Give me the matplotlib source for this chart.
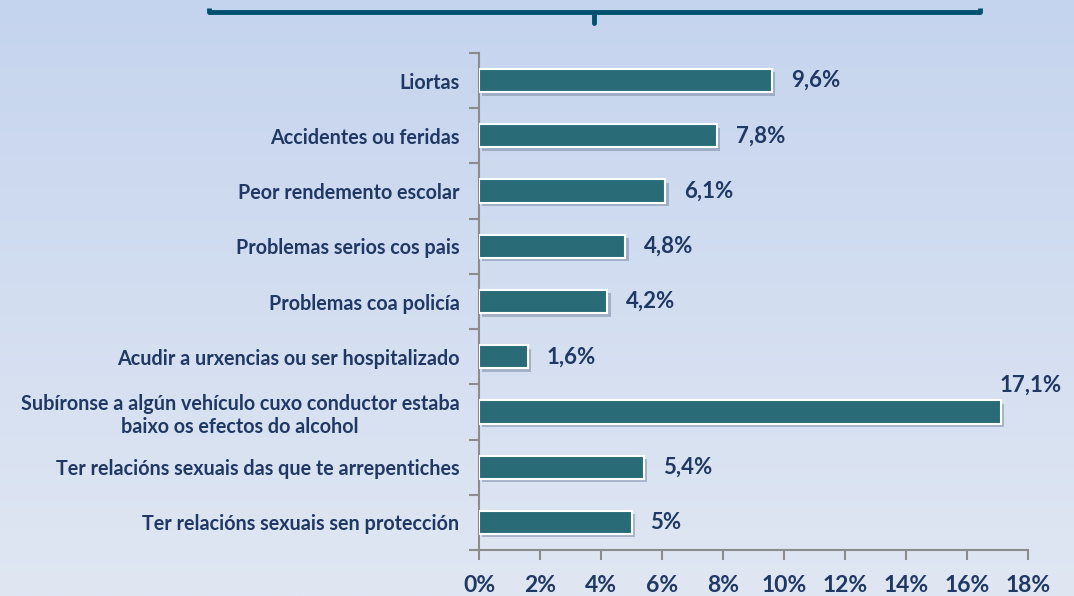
import numpy as np
import matplotlib
matplotlib.use('Agg')
import matplotlib.pyplot as plt
import matplotlib.patheffects as pe
from matplotlib.ticker import FuncFormatter

plt.rcParams['font.family'] = ['Lato', 'DejaVu Sans']
plt.rcParams['font.weight'] = 'bold'

categories = ['Liortas',
              'Accidentes ou feridas',
              'Peor rendemento escolar',
              'Problemas serios cos pais',
              'Problemas coa policía',
              'Acudir a urxencias ou ser hospitalizado',
              'Subíronse a algún vehículo cuxo conductor estaba\nbaixo os efectos do alcohol',
              'Ter relacións sexuais das que te arrepentiches',
              'Ter relacións sexuais sen protección']
values = [9.6, 7.8, 6.1, 4.8, 4.2, 1.6, 17.1, 5.4, 5.0]
value_labels = ['9,6%', '7,8%', '6,1%', '4,8%', '4,2%', '1,6%', '17,1%', '5,4%', '5%']
xticks = [0, 2, 4, 6, 8, 10, 12, 14, 16, 18]

navy = '#1f3864'
bar_color = '#2a6b78'
grey = '#8c8c8c'

fig = plt.figure(figsize=(10.74, 5.96), dpi=100)

# background gradient
bg = fig.add_axes([0, 0, 1, 1], zorder=-10)
grad = np.linspace(0, 1, 256).reshape(-1, 1)
cmap = matplotlib.colors.LinearSegmentedColormap.from_list('bg', ['#c5d4ee', '#e0e7f3'])
bg.imshow(grad, aspect='auto', cmap=cmap, extent=[0, 1, 0, 1], origin='upper')
bg.set_xlim(0, 1)
bg.set_ylim(0, 1)
bg.axis('off')

# bracket at the top
bc = '#00506f'
y0 = 1 - 12 / 596
bg.plot([209 / 1074, 209 / 1074, 980 / 1074, 980 / 1074],
        [1 - 8 / 596, y0, y0, 1 - 8 / 596], color=bc, lw=3.5, solid_capstyle='butt')
bg.plot([594 / 1074, 594 / 1074], [y0, 1 - 23 / 596], color=bc, lw=3.5, solid_capstyle='round')

ax = fig.add_axes([479 / 1074, 46 / 596, 549 / 1074, 497 / 596])
ax.patch.set_alpha(0)
y = np.arange(len(categories))
bars = ax.barh(y, values, height=0.42, color=bar_color, edgecolor='white', linewidth=1.5, zorder=3)
for b in bars:
    b.set_path_effects([pe.SimplePatchShadow(offset=(2.5, -2.5), shadow_rgbFace='#6a7a96', alpha=0.45),
                        pe.Normal()])

for i, (v, lab) in enumerate(zip(values, value_labels)):
    if v > 16:
        ax.text(18.07, i - 0.49, lab, ha='center', va='center', fontsize=16, color=navy, fontweight='bold')
    else:
        ax.text(v + 0.62, i, lab, ha='left', va='center', fontsize=16, color=navy, fontweight='bold')

ax.set_xlim(0, 18)
ax.set_ylim(len(categories) - 0.5, -0.5)
ax.set_xticks(xticks)
ax.xaxis.set_major_formatter(FuncFormatter(lambda x, p: '%d%%' % x))
ax.set_yticks(y)
ax.set_yticklabels(categories, fontsize=14.2, color=navy, fontweight='bold',
                   ha='right', multialignment='center')
ax.set_yticks(np.arange(-0.5, len(categories), 1), minor=True)
ax.tick_params(axis='y', which='major', length=0, pad=14)
ax.tick_params(axis='y', which='minor', length=7, width=1.5, color=grey, direction='out')
ax.tick_params(axis='x', length=7, width=1.5, color=grey, pad=11, labelsize=16.5, labelcolor=navy)
for t in ax.get_xticklabels():
    t.set_fontweight('bold')

for s in ['top', 'right']:
    ax.spines[s].set_visible(False)
for s in ['left', 'bottom']:
    ax.spines[s].set_color(grey)
    ax.spines[s].set_linewidth(1.5)

fig.savefig('out.png', dpi=100)
